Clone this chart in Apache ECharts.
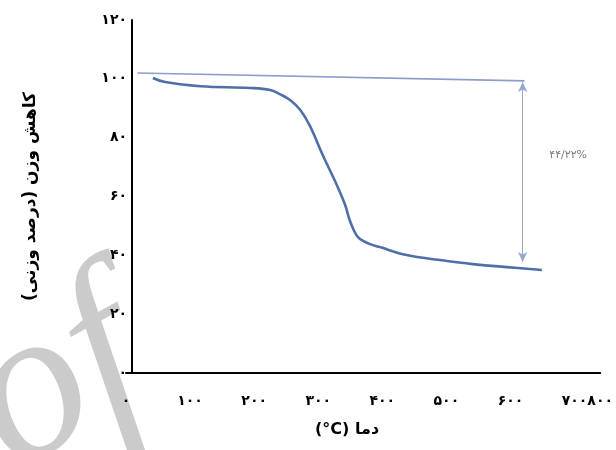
<!DOCTYPE html>
<html>
<head>
<meta charset="utf-8">
<script src="https://cdn.jsdelivr.net/npm/echarts@6/dist/echarts.min.js"></script>
<style>html,body{margin:0;padding:0;background:#fff}#c{width:616px;height:450px}</style>
</head>
<body>
<div id="c"></div>
<script>
// Data
const tempC = [42, 61, 116, 194, 225, 240, 256, 272, 287, 307, 329, 342, 349, 356, 362, 370, 381, 396, 438, 490, 541, 594, 649];
const weightPct = [100.3, 98.9, 97.5, 96.9, 96.2, 94.8, 92.8, 89.4, 84.0, 74.1, 63.9, 57.1, 52.0, 48.3, 46.2, 44.9, 43.8, 42.8, 40.1, 38.4, 37.0, 36.0, 35.0];
const refLineX = [18, 622];
const refLineY = [102, 99.3];
const arrowX = 619;
const arrowY = [98.9, 37.7];
const lossLabel = '۴۴/۲۲%';
const lossLabelPos = [690, 74];
const xTicks = [0, 100, 200, 300, 400, 500, 600, 700];
const xEndTick = [800];
const yTicks = [0, 20, 40, 60, 80, 100, 120];
const xTitle = '(°C) دما';
const yTitle = 'کاهش وزن (درصد وزنی)\u200F';

const fa = v => String(v).replace(/\d/g, d => '۰۱۲۳۴۵۶۷۸۹'[d]);
const labelFont = {fontFamily: 'DejaVu Sans', fontWeight: 'bold', fontSize: 14, color: '#000'};

const chart = echarts.init(document.getElementById('c'), null, {renderer: 'canvas'});
chart.setOption({
  animation: false,
  backgroundColor: '#fff',
  graphic: [{
    type: 'text', z: -10, silent: true,
    x: 58, y: 382, rotation: 0.5,
    style: {text: 'of', font: 'italic 215px "Liberation Serif"', fill: '#cbcbcb', align: 'center', verticalAlign: 'middle'}
  }],
  grid: {left: 126, right: 15, top: 20, bottom: 77, containLabel: false},
  xAxis: [{
    type: 'value', min: 0, max: 740,
    axisLine: {show: true, lineStyle: {color: '#000', width: 2}},
    axisTick: {show: false}, splitLine: {show: false},
    axisLabel: Object.assign({customValues: xTicks, margin: 21, formatter: v => fa(v)}, labelFont),
    name: xTitle, nameLocation: 'middle', nameGap: 49,
    nameTextStyle: {fontFamily: 'DejaVu Sans', fontWeight: 'bold', fontSize: 16, color: '#000', padding: [0, 32, 0, 0]}
  }, {
    type: 'value', min: 0, max: 800, position: 'bottom',
    axisLine: {show: false}, axisTick: {show: false}, splitLine: {show: false},
    axisLabel: Object.assign({customValues: xEndTick, margin: 21, formatter: v => fa(v)}, labelFont)
  }],
  yAxis: {
    type: 'value', min: 0, max: 120, offset: -6,
    axisLine: {show: true, lineStyle: {color: '#000', width: 2}},
    axisTick: {show: false}, splitLine: {show: false},
    axisLabel: Object.assign({customValues: yTicks, margin: 5, formatter: v => fa(v)}, labelFont),
    name: yTitle, nameLocation: 'middle', nameGap: 93,
    nameTextStyle: {fontFamily: 'DejaVu Sans', fontWeight: 'bold', fontSize: 17, color: '#000'}
  },
  series: [{
    type: 'line', name: 'ref', xAxisIndex: 0,
    data: refLineX.map((x, i) => [x, refLineY[i]]),
    symbol: 'none', lineStyle: {color: '#8b9dc9', width: 1.6},
    markLine: {
      silent: true, symbol: ['arrow', 'arrow'], symbolSize: [7, 10],
      lineStyle: {color: '#9aa8d0', width: 1, type: 'solid'},
      label: {show: false},
      data: [[{coord: [arrowX, arrowY[0]]}, {coord: [arrowX, arrowY[1]]}]]
    },
    markPoint: {
      silent: true, symbol: 'circle', symbolSize: 1, itemStyle: {color: 'rgba(0,0,0,0)'},
      label: {show: true, position: 'inside', formatter: lossLabel, fontFamily: 'DejaVu Sans', fontSize: 11, color: '#777'},
      data: [{coord: lossLabelPos}]
    }
  }, {
    type: 'line', name: 'TGA', xAxisIndex: 0,
    data: tempC.map((x, i) => [x, weightPct[i]]),
    symbol: 'none', smooth: 0.4,
    lineStyle: {color: '#4f6fa8', width: 2.6}
  }]
});
</script>
</body>
</html>
